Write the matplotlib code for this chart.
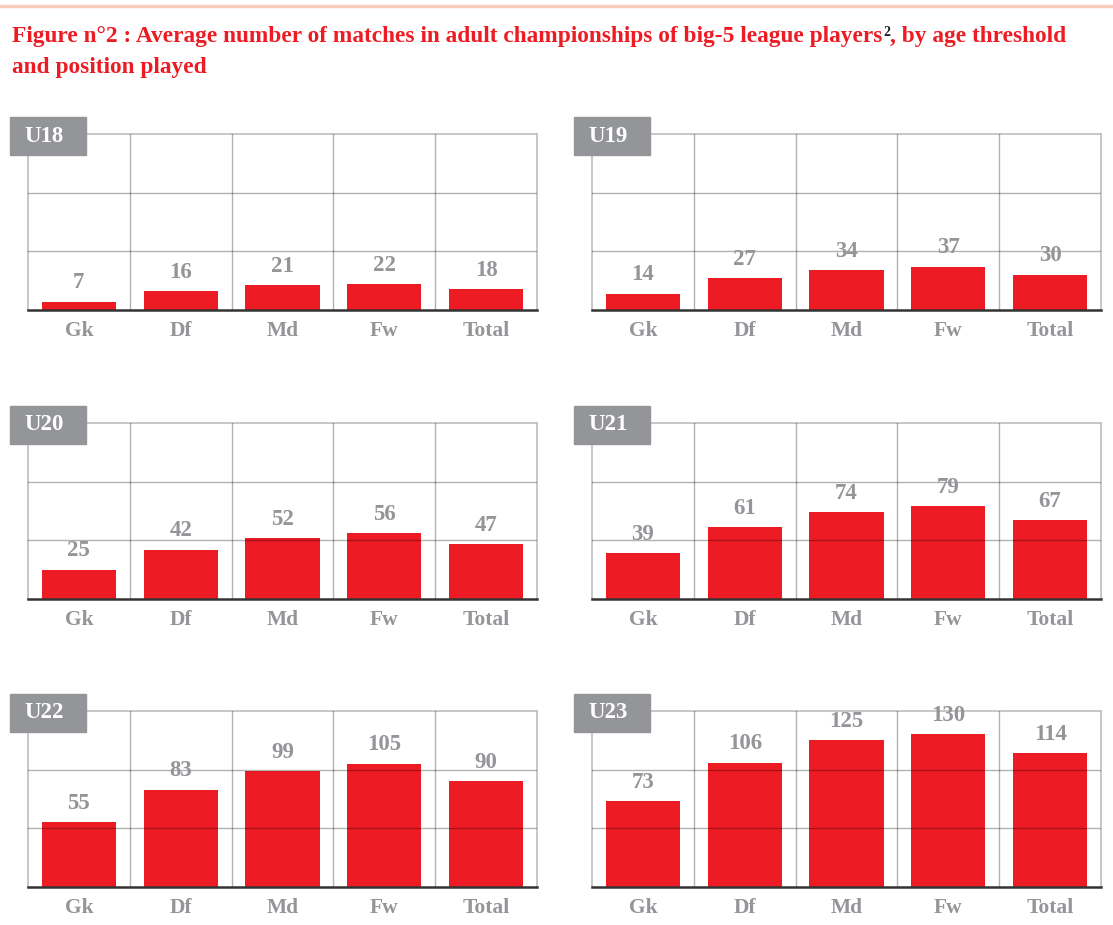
import matplotlib
matplotlib.use("Agg")
import matplotlib.pyplot as plt
from matplotlib.patches import Rectangle
import numpy as np

# data
positions = ["Gk", "Df", "Md", "Fw", "Total"]
age_groups = ["U18", "U19", "U20", "U21", "U22", "U23"]
u18 = [7, 16, 21, 22, 18]
u19 = [14, 27, 34, 37, 30]
u20 = [25, 42, 52, 56, 47]
u21 = [39, 61, 74, 79, 67]
u22 = [55, 83, 99, 105, 90]
u23 = [73, 106, 125, 130, 114]
y_max = 150
y_grid = [50, 100]

title_a = "Figure n°2 : Average number of matches in adult championships of big-5 league players"
title_b = ", by age threshold"
title_c = "and position played"

RED = "#ED1C24"
GREY = "#939598"
SERIF = ["Liberation Serif", "DejaVu Serif"]

plt.rcParams["font.family"] = SERIF
plt.rcParams["font.weight"] = "bold"

W, H = 1113, 925
fig = plt.figure(figsize=(W / 100, H / 100), dpi=100)

# pink rule on top
fig.add_artist(plt.Line2D([0, 1], [1 - 6 / H, 1 - 6 / H], transform=fig.transFigure,
                          color="#F9CBBA", lw=2.5))

# title in pieces so the footnote mark can be black
ty = 1 - 26 / H
first = fig.text(12 / W, ty, title_a, color=RED, fontsize=16.8, fontweight="bold",
                 va="top", ha="left")
fig.canvas.draw()
renderer = fig.canvas.get_renderer()
bb = first.get_window_extent(renderer)
sup = fig.text(bb.x1 / W + 1 / W, ty, "2", color="#231F20", fontsize=10,
               fontweight="bold", va="top", ha="left")
bb2 = sup.get_window_extent(renderer)
fig.text(bb2.x1 / W, ty, title_b, color=RED, fontsize=16.8,
         fontweight="bold", va="top", ha="left")
fig.text(12 / W, 1 - 57 / H, title_c, color=RED, fontsize=16.8,
         fontweight="bold", va="top", ha="left")

series = [u18, u19, u20, u21, u22, u23]
lefts = [28, 592]
tops = [134, 423, 711]
pw, ph = 509, 176
x = np.arange(len(positions))

for i, (name, vals) in enumerate(zip(age_groups, series)):
    col, row = i % 2, i // 2
    l, tp = lefts[col], tops[row]
    ax = fig.add_axes([l / W, 1 - (tp + ph) / H, pw / W, ph / H])
    ax.bar(x, vals, width=0.73, color=RED, zorder=1)
    ax.set_xlim(-0.5, len(positions) - 0.5)
    ax.set_ylim(0, y_max)
    ax.set_yticks(y_grid)
    ax.set_xticks(x)
    ax.set_xticks(x[:-1] + 0.5, minor=True)
    ax.set_xticklabels(positions, color=GREY, fontsize=15.5, fontweight="bold")
    ax.tick_params(axis="x", which="both", length=0, pad=8)
    ax.tick_params(axis="y", which="both", length=0, labelleft=False)
    ax.grid(True, axis="y", which="major", color="black", alpha=0.3, lw=1, zorder=3)
    ax.grid(True, axis="x", which="minor", color="black", alpha=0.3, lw=1, zorder=3)
    ax.grid(False, axis="x", which="major")
    ax.set_axisbelow(False)
    for s in ["top", "right", "left"]:
        ax.spines[s].set_color("#BDBDBD")
        ax.spines[s].set_linewidth(1.2)
    ax.spines["bottom"].set_color("#333333")
    ax.spines["bottom"].set_linewidth(1.8)
    ax.spines["bottom"].set_zorder(4)
    for xi, v in zip(x, vals):
        ax.annotate(str(v), (xi, v), xytext=(0, 6), textcoords="offset points",
                    ha="center", va="bottom", color=GREY, fontsize=16.5, fontweight="bold")

    # grey age tag
    bx0, by0 = l - 18, tp - 17
    fig.add_artist(Rectangle((bx0 / W, 1 - (by0 + 38) / H), 76 / W, 38 / H,
                             transform=fig.transFigure, color=GREY, zorder=5))
    fig.text((bx0 + 14) / W, 1 - (by0 + 19) / H, name, color="white", fontsize=16.5,
             fontweight="bold", va="center", ha="left", zorder=6)

fig.savefig("out.png", dpi=100)
